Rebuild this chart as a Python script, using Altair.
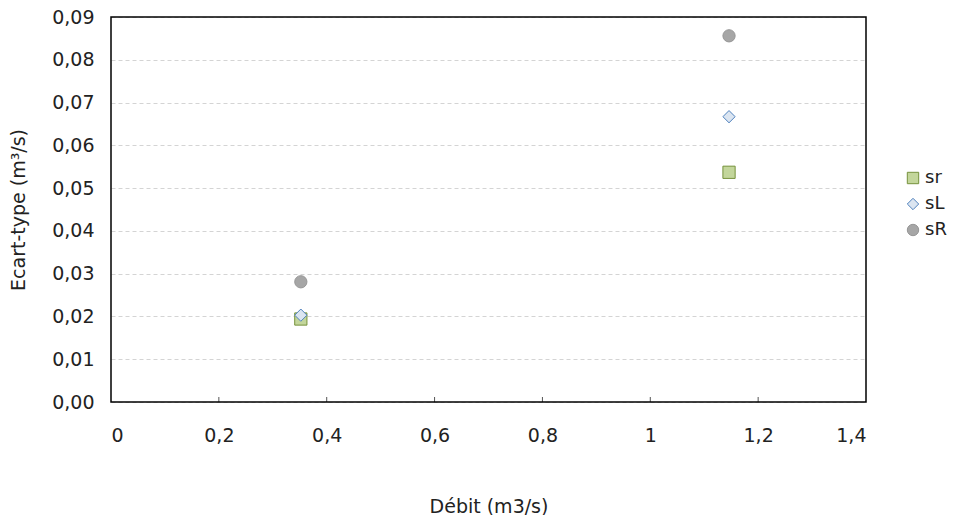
import altair as alt
import pandas as pd

series = ["sr", "sL", "sR"]
debit = [0.352, 1.146]
sr_vals = [0.0194, 0.0537]
sL_vals = [0.0203, 0.0667]
sR_vals = [0.0281, 0.0856]
x_ticks = [0, 0.2, 0.4, 0.6, 0.8, 1.0, 1.2, 1.4]
y_ticks = [0, 0.01, 0.02, 0.03, 0.04, 0.05, 0.06, 0.07, 0.08, 0.09]

rows = []
for name, vals in zip(series, [sr_vals, sL_vals, sR_vals]):
    for x, y in zip(debit, vals):
        rows.append({"Série": name, "Débit": x, "Ecart": y})
df = pd.DataFrame(rows)
ticks_df = pd.DataFrame({"t": x_ticks[1:-1]})

fills = ["#c3d69b", "#dbe5f1", "#a6a6a6"]
strokes = ["#76923c", "#4f81bd", "#969696"]
shapes = ["square", "diamond", "circle"]

font = "DejaVu Sans"
W, H = 755, 385
FS = 19

xscale = alt.Scale(domain=[0, 1.4], nice=False)

points = alt.Chart(df).mark_point(filled=True, size=150, strokeWidth=1, opacity=1).encode(
    x=alt.X("Débit:Q", title="Débit (m3/s)", scale=xscale,
            axis=alt.Axis(values=x_ticks,
                          labelExpr="replace(format(datum.value, '.1~f'), '.', ',')",
                          grid=False, ticks=False,
                          labelPadding=24, titlePadding=52, domain=False)),
    y=alt.Y("Ecart:Q", title="Ecart-type (m³/s)",
            scale=alt.Scale(domain=[0, 0.09], nice=False),
            axis=alt.Axis(values=y_ticks,
                          labelExpr="replace(format(datum.value, '.2f'), '.', ',')",
                          grid=True, gridDash=[4, 3], gridColor="#d4d4d4",
                          ticks=False, labelPadding=17, titlePadding=23, domain=False)),
    fill=alt.Fill("Série:N", scale=alt.Scale(domain=series, range=fills),
                  sort=series, legend=alt.Legend(title=None, orient="none",
                                                 legendX=793, legendY=152,
                                                 labelFontSize=18, symbolSize=130,
                                                 rowPadding=8, labelFont=font,
                                                 labelColor="#222222", labelOffset=3,
                                                 symbolStrokeWidth=1)),
    stroke=alt.Stroke("Série:N", scale=alt.Scale(domain=series, range=strokes), sort=series),
    shape=alt.Shape("Série:N", scale=alt.Scale(domain=series, range=shapes), sort=series),
)

ticks = alt.Chart(ticks_df).mark_rule(color="#555555", strokeWidth=1).encode(
    x=alt.X("t:Q", scale=xscale),
    y=alt.value(H),
    y2=alt.value(H - 5),
)

frame = alt.Chart(pd.DataFrame({"k": [0]})).mark_rect(
    fill=None, fillOpacity=0, stroke="#000000", strokeWidth=1.5
).encode(
    x=alt.value(0), x2=alt.value(W), y=alt.value(0), y2=alt.value(H)
)

chart = alt.layer(ticks, points, frame).properties(
    width=W, height=H,
    autosize=alt.AutoSizeParams(type="none"),
    padding={"left": 103, "top": 9, "right": 82, "bottom": 113},
).configure_view(
    strokeWidth=0
).configure_axis(
    labelFont=font, titleFont=font, labelFontSize=FS, titleFontSize=FS,
    labelColor="#222222", titleColor="#222222", titleFontWeight="normal",
)

chart.save("out.html", embed_options={"renderer": "svg", "actions": False})
